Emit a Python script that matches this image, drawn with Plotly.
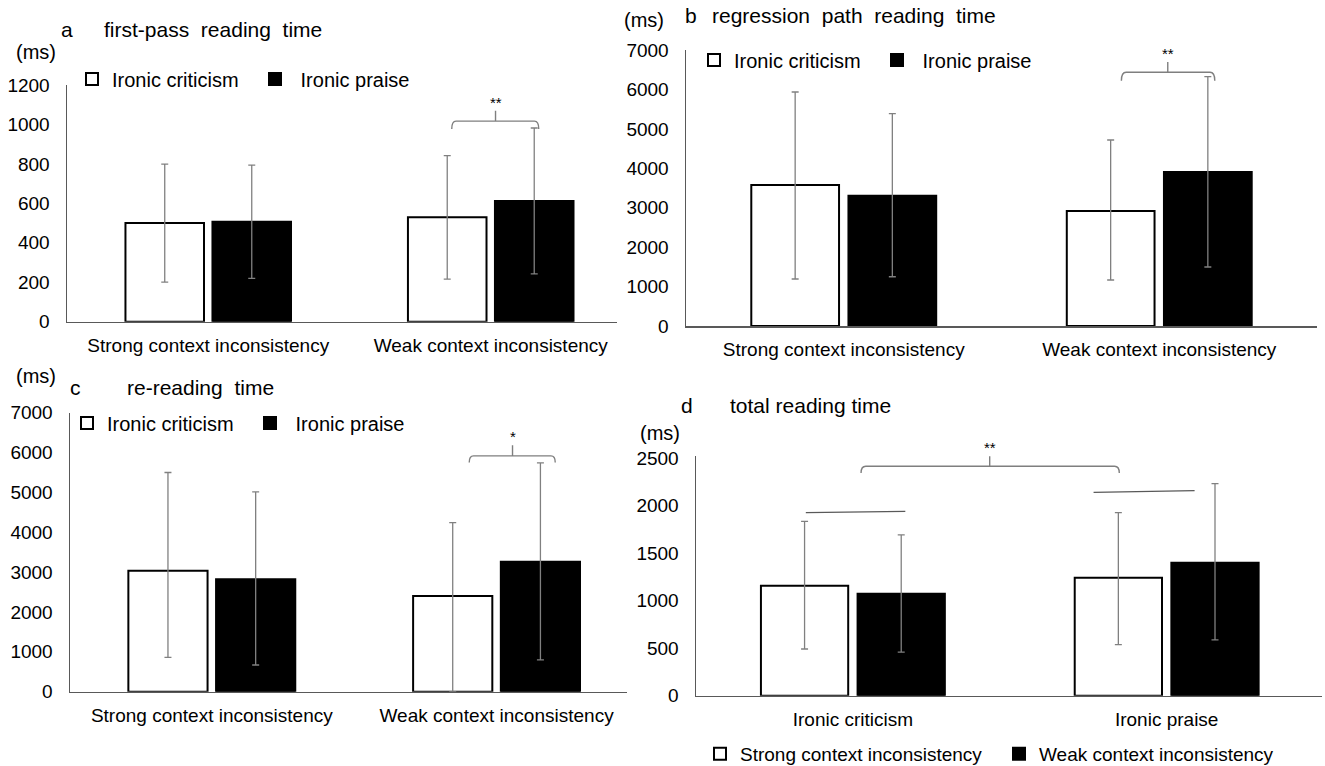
import plotly.graph_objects as go

# ---------------- data ----------------
ctx_categories = ["Strong context inconsistency", "Weak context inconsistency"]
irony_categories = ["Ironic criticism", "Ironic praise"]

# a: first-pass reading time
a_criticism = [500, 530]
a_criticism_up = [299, 312]
a_criticism_lo = [299, 314]
a_praise = [507, 612]
a_praise_up = [287, 370]
a_praise_lo = [287, 370]

# b: regression path reading time
b_criticism = [3576, 2917]
b_criticism_up = [2359, 1800]
b_criticism_lo = [2384, 1750]
b_praise = [3302, 3906]
b_praise_up = [2083, 2417]
b_praise_lo = [2053, 2410]

# c: re-reading time
c_criticism = [3035, 2398]
c_criticism_up = [2465, 1842]
c_criticism_lo = [2175, 2398]
c_praise = [2820, 3262]
c_praise_up = [2193, 2478]
c_praise_lo = [2150, 2464]

# d: total reading time (grouped by irony type)
d_strong = [1158, 1242]
d_strong_up = [679, 686]
d_strong_lo = [666, 704]
d_weak = [1073, 1400]
d_weak_up = [622, 834]
d_weak_lo = [613, 813]

FONT = "Liberation Sans"
W, H = 1325, 766


def px_x(p):
    return p / W


def px_y(p):
    return 1 - p / H


fig = go.Figure()


def add_pair(vals1, up1, lo1, vals2, up2, lo2, names, xa, ya, legend, pad2=""):
    for vals, up, lo, name, fill in [(vals1, up1, lo1, names[0], "white"),
                                     (vals2, up2, lo2, pad2 + names[1], "black")]:
        fig.add_trace(go.Bar(
            x=[0, 1], y=vals, name=name, xaxis=xa, yaxis=ya, legend=legend,
            marker=dict(color=fill, line=dict(color="black", width=2)),
            error_y=dict(type="data", array=up, arrayminus=lo, visible=True,
                         color="#808080", thickness=1.3, width=3.5),
            showlegend=True, hoverinfo="skip",
        ))


NB = "\u00a0"
add_pair(a_criticism, a_criticism_up, a_criticism_lo, a_praise, a_praise_up, a_praise_lo,
         irony_categories, "x", "y", "legend", NB)
add_pair(b_criticism, b_criticism_up, b_criticism_lo, b_praise, b_praise_up, b_praise_lo,
         irony_categories, "x2", "y2", "legend2", NB)
add_pair(c_criticism, c_criticism_up, c_criticism_lo, c_praise, c_praise_up, c_praise_lo,
         irony_categories, "x3", "y3", "legend3", NB)
add_pair(d_strong, d_strong_up, d_strong_lo, d_weak, d_weak_up, d_weak_lo,
         ctx_categories, "x4", "y4", "legend4")

axis_line = dict(showline=True, linecolor="#595959", linewidth=1.5, showgrid=False,
                 zeroline=False, ticks="", automargin=False,
                 tickfont=dict(family=FONT, size=19, color="black"))


def xaxis(dom, rng, labels, anchor):
    return dict(domain=dom, range=rng, tickvals=[0, 1], ticktext=labels, anchor=anchor,
                ticklabelstandoff=6, fixedrange=True, **axis_line)


def yaxis(dom, rng, dtick, anchor, top):
    return dict(domain=dom, range=rng, tickvals=list(range(0, top + 1, dtick)), anchor=anchor,
                ticklabelstandoff=12, fixedrange=True, **axis_line)


fig.update_layout(
    template="none",
    width=W, height=H,
    margin=dict(l=0, r=0, t=0, b=0, autoexpand=False),
    paper_bgcolor="white", plot_bgcolor="white",
    barmode="group", bargap=0.384, bargroupgap=0.097,
    font=dict(family=FONT, color="black"),
    hovermode=False,
    xaxis=xaxis([px_x(67), px_x(617)], [-0.5, 1.447], ctx_categories, "y"),
    yaxis=yaxis([px_y(321.7), px_y(85)], [0, 1200], 200, "x", 1200),
    xaxis2=xaxis([px_x(686), px_x(1317)], [-0.5, 1.5], ctx_categories, "y2"),
    yaxis2=yaxis([px_y(326), px_y(50)], [0, 7000], 1000, "x2", 7000),
    xaxis3=xaxis([px_x(70), px_x(627)], [-0.498, 1.458], ctx_categories, "y3"),
    yaxis3=yaxis([px_y(691.7), px_y(412.7)], [0, 7000], 1000, "x3", 7000),
    xaxis4=xaxis([px_x(696), px_x(1322)], [-0.5, 1.495], irony_categories, "y4"),
    yaxis4=yaxis([px_y(695.7), px_y(455.5)], [0, 2530], 500, "x4", 2500),
)


def legend_cfg(x, y, size, entry):
    return dict(orientation="h", x=x, y=y, xanchor="left", yanchor="middle",
                font=dict(family=FONT, size=size, color="black"),
                bgcolor="rgba(0,0,0,0)", borderwidth=0, itemwidth=30,
                entrywidth=entry, entrywidthmode="pixels", traceorder="normal",
                itemclick=False, itemdoubleclick=False)


fig.update_layout(
    legend=legend_cfg(px_x(72), px_y(79), 20, 138),
    legend2=legend_cfg(px_x(694), px_y(60), 20, 138),
    legend3=legend_cfg(px_x(67), px_y(423), 20, 138),
    legend4=legend_cfg(px_x(700), px_y(754), 19, 254),
)


# brackets / significance markers (data units)
def add_brace(xa, ya, x0, x1, xm, yb, yend, ytop, text):
    dx = 0.015
    path = (f"M {x0},{yend} Q {x0},{yb} {x0 + dx},{yb} L {x1 - dx},{yb} "
            f"Q {x1},{yb} {x1},{yend} M {xm},{yb} L {xm},{ytop}")
    fig.add_shape(type="path", path=path, xref=xa, yref=ya,
                  line=dict(color="#7f7f7f", width=1.4))
    fig.add_annotation(x=xm, y=ytop, xref=xa, yref=ya, text=text, showarrow=False,
                       font=dict(family=FONT, size=15, color="black"),
                       yanchor="bottom", yshift=-2)


add_brace("x", "y", 0.862, 1.170, 1.017, 1017, 977, 1070, "**")
add_brace("x2", "y2", 0.880, 1.176, 1.027, 6434, 6220, 6695, "**")
add_brace("x3", "y3", 0.904, 1.206, 1.056, 5916, 5750, 6184, "*")
add_brace("x4", "y4", 0.026, 0.849, 0.436, 2417, 2346, 2522, "**")

# horizontal lines in panel d
fig.add_shape(type="line", xref="x4", yref="y4", x0=-0.150, x1=0.167, y0=1928, y1=1942,
              line=dict(color="#595959", width=1.3))
fig.add_shape(type="line", xref="x4", yref="y4", x0=0.767, x1=1.089, y0=2142, y1=2160,
              line=dict(color="#595959", width=1.3))


# titles and units
def txt(x, y, s, size, anchor="left"):
    fig.add_annotation(x=px_x(x), y=px_y(y), xref="paper", yref="paper", text=s,
                       showarrow=False, xanchor=anchor, yanchor="middle",
                       font=dict(family=FONT, size=size, color="black"))


txt(59, 30, "a", 21)
txt(102, 30, "first-pass  reading  time", 21)
txt(14, 52, "(ms)", 20)

txt(683, 16, "b", 21)
txt(710, 16, "regression  path  reading  time", 21)
txt(622, 20, "(ms)", 20)

txt(68, 387, "c", 21)
txt(125, 387, "re-reading  time", 21)
txt(14, 376, "(ms)", 20)

txt(679, 405, "d", 21)
txt(728, 405, "total reading time", 21)
txt(638, 433, "(ms)", 20)

fig.write_html(
    "out.html",
    config={"displayModeBar": False, "staticPlot": True},
    post_script="document.body.style.margin='0';document.body.style.overflow='hidden';",
)
